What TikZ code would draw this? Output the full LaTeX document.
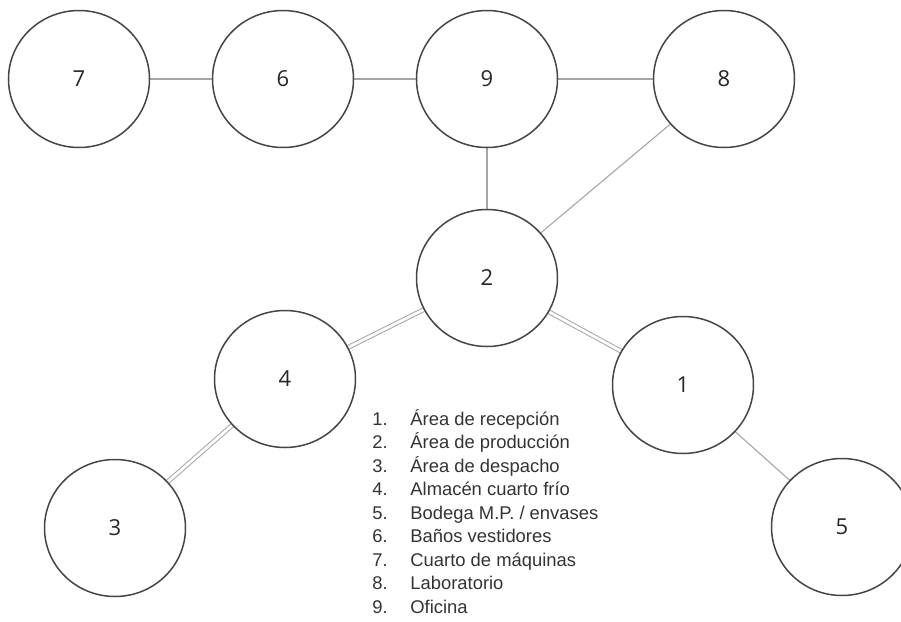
\documentclass[tikz,border=0pt]{standalone}
\usepackage{fontspec}
\setmainfont{Liberation Sans}
\newfontfamily\numfont{Open Sans}
\usepackage{tikz}
\usetikzlibrary{shapes.geometric,backgrounds}
\definecolor{ringgray}{HTML}{454545}
\definecolor{linkgray}{HTML}{A6A6A6}
\definecolor{legendtext}{HTML}{333333}

\begin{document}
\begin{tikzpicture}[x=0.5pt,y=-0.5pt,
  area/.style={ellipse,draw=ringgray,line width=0.75pt,fill=white,minimum width=70.5pt,minimum height=68.5pt,inner sep=0pt,text=black!85,font=\numfont\fontsize{11}{13}\selectfont},
  link/.style={draw=linkgray,line width=0.55pt},
  dlink/.style={draw=linkgray,line width=0.5pt,double=white,double distance=1.4pt},
  item/.style={anchor=base west,inner sep=0pt,text=legendtext,font=\fontsize{9.2}{11}\selectfont}]
\useasboundingbox (0,0) rectangle (901,622);
% areas
\node[area] (a7) at (79,79) {7};
\node[area] (a6) at (283,79) {6};
\node[area] (a9) at (487,79) {9};
\node[area] (a8) at (724,79) {8};
\node[area] (a2) at (487,278) {2};
\node[area] (a4) at (285,379) {4};
\node[area] (a1) at (683,385) {1};
\node[area] (a3) at (115,528) {3};
\node[area] (a5) at (842,527) {5};
% connections
\begin{scope}[on background layer]
\draw[link] (a7) -- (a6);
\draw[link] (a6) -- (a9);
\draw[link] (a9) -- (a8);
\draw[link] (a9) -- (a2);
\draw[link] (a8) -- (a2);
\draw[link] (a1) -- (a5);
\draw[dlink] (a2) -- (a4);
\draw[dlink] (a4) -- (a3);
\draw[dlink] (a2) -- (a1);
\end{scope}
% legend
\node[item] (l1) at (372,425) {\makebox[19pt][l]{1.}Área de recepción};
\node[item] (l2) at (372,448.5) {\makebox[19pt][l]{2.}Área de producción};
\node[item] (l3) at (372,472) {\makebox[19pt][l]{3.}Área de despacho};
\node[item] (l4) at (372,495.5) {\makebox[19pt][l]{4.}Almacén cuarto frío};
\node[item] (l5) at (372,519) {\makebox[19pt][l]{5.}Bodega M.P. / envases};
\node[item] (l6) at (372,542.5) {\makebox[19pt][l]{6.}Baños vestidores};
\node[item] (l7) at (372,566) {\makebox[19pt][l]{7.}Cuarto de máquinas};
\node[item] (l8) at (372,589.5) {\makebox[19pt][l]{8.}Laboratorio};
\node[item] (l9) at (372,613) {\makebox[19pt][l]{9.}Oficina};
\end{tikzpicture}
\end{document}
